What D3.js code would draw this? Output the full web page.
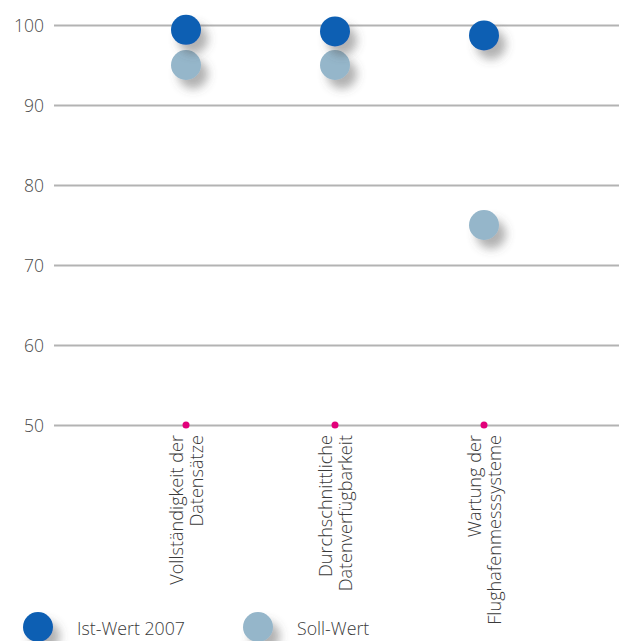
<!DOCTYPE html>
<html>
<head>
<meta charset="utf-8">
<script src="https://cdn.jsdelivr.net/npm/d3@7"></script>
<style>
  html, body { margin: 0; padding: 0; background: #fff; }
  svg { display: block; }
  text { font-family: "Open Sans", Lato, sans-serif; font-weight: 300; }
</style>
</head>
<body>
<svg id="chart" width="622" height="641"></svg>
<script>
// Kategorien (zweizeilige Achsenbeschriftung)
const categories = [
  ["Vollständigkeit der", "Datensätze"],
  ["Durchschnittliche", "Datenverfügbarkeit"],
  ["Wartung der", "Flughafenmesssysteme"]
];
// Ist-Werte 2007 und Soll-Werte in Prozent
const istWerte = [99.4, 99.2, 98.7];
const sollWerte = [95, 95, 75];
const yTicks = [50, 60, 70, 80, 90, 100];
const seriesNames = ["Ist-Wert 2007", "Soll-Wert"];
const seriesColors = ["#0b5fb3", "#95b6ca"];

const svg = d3.select("#chart");

// scale a text's font size so that it spans the given width
function fitWidth(sel, width, base) {
  sel.style("font-size", base + "px");
  const w = sel.node().getComputedTextLength();
  return base * width / w;
}

const defs = svg.append("defs");
const f = defs.append("filter").attr("id", "shadow")
  .attr("x", "-80%").attr("y", "-80%").attr("width", "260%").attr("height", "260%");
f.append("feDropShadow").attr("dx", 7).attr("dy", 9).attr("stdDeviation", 5)
  .attr("flood-color", "#555").attr("flood-opacity", 0.45);

const y = d3.scaleLinear().domain([50, 100]).range([425, 25]);
const x = d3.scalePoint().domain(d3.range(categories.length)).range([186, 484]);

// Gitterlinien und Achsenbeschriftung
const yAxis = d3.axisLeft(y).tickValues(yTicks).tickSize(-565).tickPadding(10);
const gy = svg.append("g").attr("transform", "translate(54,0)").call(yAxis);
gy.select(".domain").remove();
gy.selectAll(".tick line").attr("stroke", "#b3b3b3").attr("stroke-width", 2);
const tickText = gy.selectAll(".tick text")
  .attr("fill", "#4a4a4a")
  .attr("dy", "0.36em");
const tickSize = fitWidth(tickText.filter(d => d === 100), 30, 15);
tickText.style("font-size", tickSize + "px");

// Kategoriepunkte auf der Grundlinie
svg.append("g").selectAll("circle")
  .data(categories)
  .join("circle")
  .attr("cx", (d, i) => x(i))
  .attr("cy", y(50))
  .attr("r", 3.5)
  .attr("fill", "#e2007a");

// Gedrehte Kategoriebeschriftungen
const labels = svg.append("g").selectAll("text")
  .data(categories)
  .join("text")
  .attr("transform", (d, i) => `translate(${x(i)},435) rotate(-90)`)
  .attr("text-anchor", "end")
  .attr("fill", "#3a3a3a");
labels.each(function(d) {
  const t = d3.select(this);
  t.append("tspan").attr("x", 0).attr("y", -3).text(d[0]);
  t.append("tspan").attr("x", 0).attr("y", 17).text(d[1]);
});
const probe = svg.append("text").text(categories[0][0]);
const labelSize = fitWidth(probe, 150, 14);
probe.remove();
labels.style("font-size", labelSize + "px");

// Datenpunkte
const series = [sollWerte, istWerte];
const seriesCol = [seriesColors[1], seriesColors[0]];
series.forEach((vals, s) => {
  svg.append("g").selectAll("circle")
    .data(vals)
    .join("circle")
    .attr("cx", (d, i) => x(i))
    .attr("cy", d => y(d))
    .attr("r", 15)
    .attr("fill", seriesCol[s])
    .attr("filter", "url(#shadow)");
});

// Legende
const legend = svg.append("g");
const legX = [38, 258];
const legTexts = [];
seriesNames.forEach((name, i) => {
  legend.append("circle")
    .attr("cx", legX[i]).attr("cy", 627).attr("r", 15)
    .attr("fill", seriesColors[i])
    .attr("filter", "url(#shadow)");
  legTexts.push(legend.append("text")
    .attr("x", legX[i] + 39).attr("y", 635)
    .attr("fill", "#3a3a3a")
    .text(name));
});
const legSize = fitWidth(legTexts[0], 108, 15);
legTexts.forEach(t => t.style("font-size", legSize + "px"));
</script>
</body>
</html>
